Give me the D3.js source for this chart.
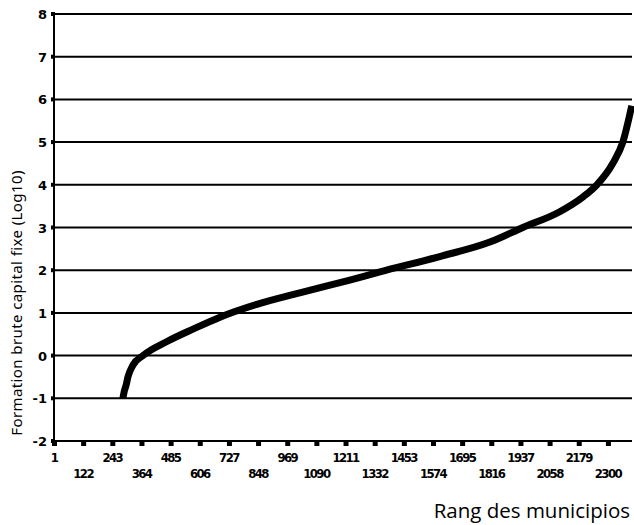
<!DOCTYPE html>
<meta charset="utf-8">
<script src="https://d3js.org/d3.v7.min.js"></script>
<style>
  body { margin: 0; background: white; }
  .tick-lbl { font-family: "DejaVu Sans Condensed", "DejaVu Sans", sans-serif; font-size: 13px; font-weight: bold; letter-spacing: -1.6px; fill: #000; }
  .ylbl { font-family: "DejaVu Sans", sans-serif; font-size: 13px; font-weight: bold; fill: #000; }
</style>
<div id="chart"></div>
<script>
// rank of municipio vs log10 of gross fixed capital formation
var ranks  = [287, 292, 300, 308, 329, 370, 470, 578, 690, 843, 1021, 1229, 1354, 1602, 1810, 1947, 2100, 2195, 2254, 2320, 2362, 2399];
var values = [-1.0, -0.85, -0.7, -0.5, -0.22, 0.0, 0.33, 0.62, 0.9, 1.2, 1.47, 1.77, 1.96, 2.32, 2.66, 3.0, 3.37, 3.71, 4.0, 4.5, 5.0, 5.85];

var xTicks = [1, 122, 243, 364, 485, 606, 727, 848, 969, 1090, 1211, 1332, 1453, 1574, 1695, 1816, 1937, 2058, 2179, 2300];
var yTicks = [-2, -1, 0, 1, 2, 3, 4, 5, 6, 7, 8];

var width = 634, height = 525;
var plotLeft = 54, plotRight = 632, plotTop = 14, plotBottom = 441;

var svg = d3.select("#chart").append("svg")
    .attr("width", width)
    .attr("height", height);

var x = d3.scaleLinear().domain([1, 2400]).range([plotLeft, plotRight]);
var y = d3.scaleLinear().domain([-2, 8]).range([plotBottom, plotTop]);

// horizontal grid lines
svg.append("g")
    .selectAll("line")
    .data(yTicks)
    .enter().append("line")
    .attr("x1", plotLeft).attr("x2", plotRight)
    .attr("y1", function(d) { return y(d); })
    .attr("y2", function(d) { return y(d); })
    .attr("stroke", "#000")
    .attr("stroke-width", 2);

// y axis line + square ticks + labels
svg.append("line")
    .attr("x1", plotLeft).attr("x2", plotLeft)
    .attr("y1", plotTop).attr("y2", plotBottom)
    .attr("stroke", "#000").attr("stroke-width", 2);

svg.append("g").selectAll("rect")
    .data(yTicks)
    .enter().append("rect")
    .attr("x", plotLeft - 3).attr("y", function(d) { return y(d) - 2; })
    .attr("width", 4).attr("height", 4)
    .attr("fill", "#000");

svg.append("g").selectAll("text")
    .data(yTicks)
    .enter().append("text")
    .attr("class", "ylbl")
    .attr("x", plotLeft - 7)
    .attr("y", function(d) { return y(d) + 5; })
    .attr("text-anchor", "end")
    .text(function(d) { return d; });

// x axis square ticks + alternating labels
svg.append("g").selectAll("rect")
    .data(xTicks)
    .enter().append("rect")
    .attr("x", function(d) { return x(d) - 2; })
    .attr("y", plotBottom)
    .attr("width", 5).attr("height", 5)
    .attr("fill", "#000");

svg.append("g").selectAll("text")
    .data(xTicks)
    .enter().append("text")
    .attr("class", "tick-lbl")
    .attr("x", function(d) { return x(d); })
    .attr("y", function(d, i) { return i % 2 == 0 ? 462 : 478; })
    .attr("text-anchor", "middle")
    .text(function(d) { return d; });

// the curve
var line = d3.line()
    .x(function(d, i) { return x(ranks[i]); })
    .y(function(d) { return y(d); })
    .curve(d3.curveMonotoneX);

svg.append("path")
    .datum(values)
    .attr("d", line)
    .attr("fill", "none")
    .attr("stroke", "#000")
    .attr("stroke-width", 7);

// axis titles
svg.append("text")
    .attr("transform", "translate(22,303) rotate(-90)")
    .attr("text-anchor", "middle")
    .style("font-family", "'Noto Sans', sans-serif")
    .style("font-size", "15px")
    .style("letter-spacing", "0.4px")
    .text("Formation brute capital fixe (Log10)");

svg.append("text")
    .attr("x", 630).attr("y", 518)
    .attr("text-anchor", "end")
    .style("font-family", "'Open Sans', sans-serif")
    .style("font-size", "20.5px")
    .text("Rang des municipios");
</script>
